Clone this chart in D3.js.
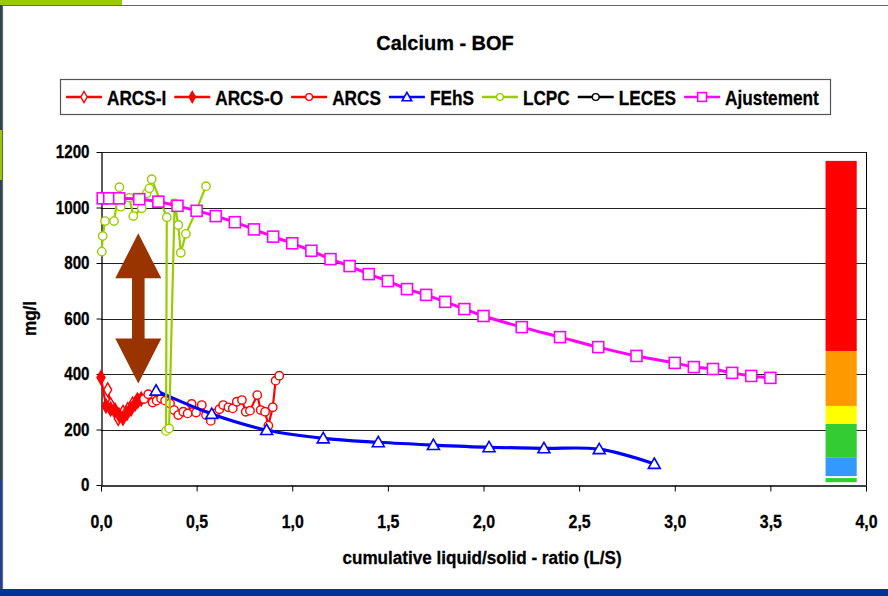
<!DOCTYPE html>
<html>
<head>
<meta charset="utf-8">
<script src="https://cdn.jsdelivr.net/npm/d3@7"></script>
<style>
body { margin: 0; background: #fff; }
svg { display: block; }
</style>
</head>
<body>
<svg id="chart"></svg>
<script>
// values
const yTicks = [0, 200, 400, 600, 800, 1000, 1200];
const xTicks = [0, 0.5, 1, 1.5, 2, 2.5, 3, 3.5, 4];

const arcsIX = [0.035, 0.05, 0.075, 0.09, 0.115, 0.14, 0.165, 0.19];
const arcsIY = [343, 290, 262, 240, 262, 272, 292, 306];

const arcsOX = [0.0, 0.026, 0.05, 0.073, 0.094, 0.115, 0.136, 0.157, 0.178, 0.193, 0.21];
const arcsOY = [387, 285, 274, 270, 252, 241, 259, 274, 292, 303, 310];

const arcsX = [0.225, 0.247, 0.270, 0.291, 0.314, 0.335, 0.361, 0.382, 0.404, 0.430, 0.453,
  0.474, 0.497, 0.527, 0.549, 0.574, 0.596, 0.619, 0.639, 0.666, 0.689, 0.710, 0.737,
  0.757, 0.779, 0.817, 0.835, 0.858, 0.875, 0.898, 0.913, 0.932];
const arcsY = [310, 327, 297, 304, 312, 304, 294, 270, 252, 264, 258, 292, 261, 288, 252,
  231, 258, 273, 288, 280, 276, 300, 306, 264, 268, 324, 270, 264, 214, 280, 376, 394];

const fehsX = [0.288, 0.579, 0.866, 1.162, 1.45, 1.738, 2.029, 2.316, 2.605, 2.893];
const fehsY = [340, 256, 198, 168, 154, 144, 136, 132, 129, 76];

const lcpcX = [0.004, 0.009, 0.021, 0.068, 0.096, 0.103, 0.148, 0.169, 0.213, 0.239, 0.253,
  0.265, 0.344, 0.340, 0.356, 0.385, 0.404, 0.417, 0.444, 0.497, 0.549];
const lcpcY = [841, 897, 951, 951, 1073, 1003, 1035, 969, 997, 1051, 1069, 1102, 965, 195,
  204, 1015, 937, 837, 905, 988, 1077];

const ajustX = [0.009, 0.043, 0.095, 0.2, 0.3, 0.4, 0.5, 0.6, 0.7, 0.8, 0.9, 1.0, 1.1, 1.2,
  1.3, 1.4, 1.5, 1.6, 1.7, 1.8, 1.9, 2.0, 2.2, 2.4, 2.6, 2.8, 3.0, 3.1, 3.2, 3.3, 3.4, 3.5];
const ajustY = [1033, 1033, 1033, 1030, 1021, 1006, 988, 969, 947, 921, 895, 871, 844, 814,
  789, 760, 735, 706, 685, 660, 634, 609, 569, 533, 497, 465, 440, 425, 418, 404, 393, 386];

// colour scale bar at the right
const bandLow = [10, 32, 100, 220, 285, 483];
const bandHigh = [25, 100, 220, 285, 483, 1168];
const bandColors = ["#33cc33", "#3399ff", "#33cc33", "#ffff00", "#ff9900", "#ff0000"];
const bandX = 3.87, bandW = 0.163;

// double arrow annotation
const arrowX = 0.195, arrowLow = 366, arrowHigh = 907;

const legendNames = ["ARCS-I", "ARCS-O", "ARCS", "FEhS", "LCPC", "LECES", "Ajustement"];
const legendColors = ["#ff0000", "#ff0000", "#ff0000", "#0000ff", "#99cc00", "#000000", "#ff00ff"];
const legendMarks = ["diamondOpen", "diamond", "circle", "triangle", "circle", "circle", "square"];

const W = 888, H = 596;
const FONT = "'Liberation Sans', Arial, sans-serif";
const NARROW = 0.82; // reference uses a narrow bold face

const svg = d3.select("#chart").attr("width", W).attr("height", H);

const x = d3.scaleLinear().domain([0, 4]).range([101, 866]);
const y = d3.scaleLinear().domain([0, 1200]).range([485, 152]);

function label(parent, px, py, str, size, anchor, sx) {
  return parent.append("text")
    .attr("transform", "translate(" + px + "," + py + ") scale(" + sx + ",1)")
    .attr("text-anchor", anchor)
    .attr("font-family", FONT)
    .attr("font-weight", "bold")
    .attr("font-size", size)
    .attr("fill", "#000")
    .attr("stroke", "#000").attr("stroke-width", 0.3)
    .text(str);
}

// slide frame
svg.append("rect").attr("width", W).attr("height", H).attr("fill", "#fff");
svg.append("rect").attr("x", 0).attr("y", 0).attr("width", 122).attr("height", 5).attr("fill", "#99cc00");
svg.append("rect").attr("x", 0).attr("y", 5).attr("width", 2).attr("height", 585).attr("fill", "#2a4452");
svg.append("rect").attr("x", 0).attr("y", 130).attr("width", 2).attr("height", 50).attr("fill", "#99cc00");
svg.append("rect").attr("x", 0).attr("y", 480).attr("width", 2).attr("height", 110).attr("fill", "#1f3f99");
svg.append("path").attr("d", "M2.5,590 V5.5 H888").attr("fill", "none").attr("stroke", "#666").attr("stroke-width", 1.2);
svg.append("rect").attr("x", 0).attr("y", 589).attr("width", W).attr("height", 7).attr("fill", "#003399");

// title
label(svg, 445, 50, "Calcium - BOF", 21, "middle", 0.95);

// gridlines
svg.append("g").selectAll("line").data(yTicks.filter(d => d > 0)).join("line")
  .attr("x1", x(0)).attr("x2", x(4))
  .attr("y1", d => Math.round(y(d)) + 0.5).attr("y2", d => Math.round(y(d)) + 0.5)
  .attr("stroke", "#222").attr("stroke-width", 1);
svg.append("line").attr("x1", x(4) + 0.5).attr("x2", x(4) + 0.5)
  .attr("y1", y(1200)).attr("y2", y(0)).attr("stroke", "#000");

// axes
const yAxis = svg.append("g").attr("transform", "translate(" + (x(0) + 0.5) + ",0)")
  .call(d3.axisLeft(y).tickValues(yTicks).tickSize(5).tickSizeOuter(0).tickFormat(d3.format("d")));
const xAxis = svg.append("g").attr("transform", "translate(0," + (y(0) + 0.5) + ")")
  .call(d3.axisBottom(x).tickValues(xTicks).tickSize(6).tickSizeOuter(0)
    .tickFormat(d => d3.format(".1f")(d).replace(".", ",")));
[yAxis, xAxis].forEach(a => {
  a.select(".domain").attr("stroke", "#000").attr("stroke-width", 1.3);
  a.selectAll(".tick line").attr("stroke", "#000");
  a.selectAll("text").attr("font-family", FONT).attr("font-weight", "bold")
    .attr("font-size", 18.5).attr("fill", "#000").attr("stroke", "#000").attr("stroke-width", 0.3);
});
yAxis.selectAll("text").attr("x", -12 / NARROW).attr("transform", "scale(" + NARROW + ",1)");
xAxis.selectAll("text").attr("y", 29).attr("x", 0).attr("transform", "scale(0.86,1)");

label(svg, 482, 564, "cumulative liquid/solid - ratio (L/S)", 19, "middle", 0.9);
svg.append("text")
  .attr("transform", "translate(36," + y(600) + ") rotate(-90) scale(0.9,1)")
  .attr("text-anchor", "middle")
  .attr("font-family", FONT).attr("font-weight", "bold").attr("font-size", 19)
  .attr("stroke", "#000").attr("stroke-width", 0.3)
  .text("mg/l");

// series
function marker(g, kind, color, px, py, k) {
  if (kind === "circle") {
    g.append("circle").attr("cx", px).attr("cy", py).attr("r", 4.2 * k)
      .attr("fill", "#fff").attr("stroke", color).attr("stroke-width", 1.4);
  } else if (kind === "square") {
    g.append("rect").attr("x", px - 5.5 * k).attr("y", py - 5.5 * k).attr("width", 11 * k).attr("height", 11 * k)
      .attr("fill", "#fff").attr("stroke", color).attr("stroke-width", 1.6);
  } else if (kind === "triangle") {
    g.append("path").attr("transform", "translate(" + px + "," + (py + 1) + ")")
      .attr("d", d3.symbol(d3.symbolTriangle, 62 * k * k)())
      .attr("fill", "#fff").attr("stroke", color).attr("stroke-width", 1.6);
  } else {
    g.append("path").attr("transform", "translate(" + px + "," + py + ")")
      .attr("d", d3.symbol(d3.symbolDiamond, 55 * k * k)())
      .attr("fill", kind === "diamond" ? color : "#fff").attr("stroke", color).attr("stroke-width", 1.4);
  }
}

function drawSeries(xs, ys, color, kind, width, curve) {
  const pts = xs.map((v, i) => [x(v), y(ys[i])]);
  const g = svg.append("g");
  g.append("path").attr("d", d3.line().curve(curve)(pts))
    .attr("fill", "none").attr("stroke", color).attr("stroke-width", width)
    .attr("stroke-linejoin", "round");
  pts.forEach(p => marker(g, kind, color, p[0], p[1], 1));
}

drawSeries(arcsIX, arcsIY, "#ff0000", "diamondOpen", 2.2, d3.curveLinear);
drawSeries(arcsOX, arcsOY, "#ff0000", "diamond", 2.2, d3.curveLinear);
drawSeries(arcsX, arcsY, "#ff0000", "circle", 2.2, d3.curveLinear);
drawSeries(fehsX, fehsY, "#0000ff", "triangle", 3.2, d3.curveCatmullRom);
drawSeries(lcpcX, lcpcY, "#99cc00", "circle", 2.2, d3.curveLinear);
drawSeries(ajustX, ajustY, "#ff00ff", "square", 3, d3.curveCatmullRom);

// colour bar
svg.append("g").selectAll("rect").data(bandLow).join("rect")
  .attr("x", x(bandX - bandW / 2)).attr("width", x(bandW) - x(0))
  .attr("y", (d, i) => y(bandHigh[i])).attr("height", (d, i) => y(d) - y(bandHigh[i]))
  .attr("fill", (d, i) => bandColors[i]);

// arrow
{
  const cx = x(arrowX), top = y(arrowHigh), bot = y(arrowLow);
  const hw = 23, hl = 45, sw = 6.3;
  svg.append("path")
    .attr("d", "M" + cx + "," + top + " L" + (cx + hw) + "," + (top + hl) + " L" + (cx + sw) + "," + (top + hl) +
      " L" + (cx + sw) + "," + (bot - hl) + " L" + (cx + hw) + "," + (bot - hl) + " L" + cx + "," + bot +
      " L" + (cx - hw) + "," + (bot - hl) + " L" + (cx - sw) + "," + (bot - hl) + " L" + (cx - sw) + "," + (top + hl) +
      " L" + (cx - hw) + "," + (top + hl) + " Z")
    .attr("fill", "#993300");
}

// legend
const lg = svg.append("g");
lg.append("rect").attr("x", 60.5).attr("y", 79.5).attr("width", 770).attr("height", 35)
  .attr("fill", "#fff").attr("stroke", "#555").attr("stroke-width", 1.2);
let lx = 66;
legendNames.forEach((name, i) => {
  const ly = 97;
  lg.append("line").attr("x1", lx).attr("x2", lx + 36).attr("y1", ly).attr("y2", ly)
    .attr("stroke", legendColors[i]).attr("stroke-width", 2.5);
  marker(lg, legendMarks[i], legendColors[i], lx + 18, ly, 0.8);
  const t = label(lg, lx + 41, ly + 7.5, name, 21, "start", NARROW);
  lx += 41 + t.node().getComputedTextLength() * NARROW + 8;
});
</script>
</body>
</html>
